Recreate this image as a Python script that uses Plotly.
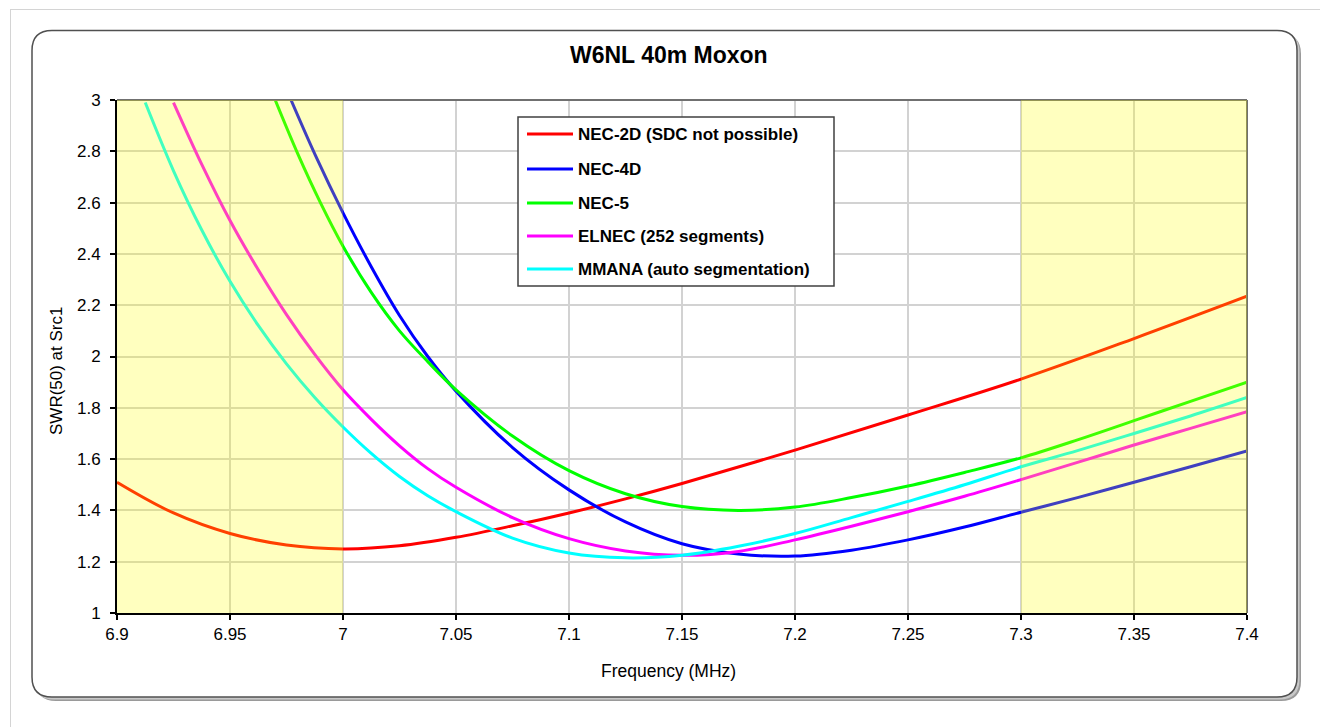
import plotly.graph_objects as go

# ---------------- data ----------------
series_names = [
    "NEC-2D (SDC not possible)",
    "NEC-4D",
    "NEC-5",
    "ELNEC (252 segments)",
    "MMANA (auto segmentation)",
]
series_colors = ["#FF0000", "#0000FF", "#00FF00", "#FF00FF", "#00FFFF"]

nec2d_freq = [6.9, 6.925, 6.95, 6.975, 7.0, 7.025, 7.05, 7.075, 7.1, 7.125, 7.15,
              7.2, 7.25, 7.3, 7.35, 7.4]
nec2d_swr = [1.51, 1.39, 1.31, 1.265, 1.25, 1.262, 1.295, 1.34, 1.39, 1.445, 1.505,
             1.635, 1.772, 1.912, 2.07, 2.235]

nec4d_freq = [6.977, 6.988, 7.0, 7.0125, 7.025, 7.0375, 7.05, 7.075, 7.1, 7.125, 7.15,
              7.175, 7.2, 7.225, 7.25, 7.275, 7.3, 7.325, 7.35, 7.375, 7.4]
nec4d_swr = [3.0, 2.78, 2.56, 2.35, 2.16, 2.0, 1.865, 1.645, 1.48, 1.355, 1.27,
             1.23, 1.222, 1.245, 1.285, 1.335, 1.393, 1.45, 1.51, 1.57, 1.632]

nec5_freq = [6.970, 6.98, 6.99, 7.0, 7.0125, 7.025, 7.0375, 7.05, 7.075, 7.1, 7.125,
             7.15, 7.175, 7.2, 7.225, 7.25, 7.275, 7.3, 7.325, 7.35, 7.375, 7.4]
nec5_swr = [3.0, 2.79, 2.60, 2.43, 2.25, 2.10, 1.98, 1.87, 1.69, 1.555, 1.465,
            1.415, 1.40, 1.413, 1.45, 1.495, 1.548, 1.605, 1.675, 1.75, 1.825, 1.90]

elnec_freq = [6.925, 6.9375, 6.95, 6.9625, 6.975, 6.9875, 7.0, 7.0125, 7.025, 7.0375,
              7.05, 7.075, 7.1, 7.125, 7.15, 7.175, 7.2, 7.225, 7.25, 7.275, 7.3,
              7.325, 7.35, 7.375, 7.4]
elnec_swr = [2.99, 2.749, 2.53, 2.338, 2.163, 2.008, 1.87, 1.755, 1.652, 1.563,
             1.49, 1.372, 1.29, 1.242, 1.225, 1.24, 1.285, 1.338, 1.395, 1.455, 1.52,
             1.587, 1.655, 1.72, 1.785]

mmana_freq = [6.9125, 6.925, 6.9375, 6.95, 6.9625, 6.975, 6.9875, 7.0, 7.0125, 7.025,
              7.0375, 7.05, 7.075, 7.1, 7.125, 7.15, 7.175, 7.2, 7.225, 7.25, 7.275,
              7.3, 7.325, 7.35, 7.375, 7.4]
mmana_swr = [2.99, 2.724, 2.493, 2.293, 2.121, 1.971, 1.84, 1.725, 1.622, 1.532,
             1.457, 1.395, 1.292, 1.234, 1.215, 1.225, 1.26, 1.31, 1.372, 1.435, 1.50,
             1.57, 1.633, 1.70, 1.768, 1.84]

series_freq = [nec2d_freq, nec4d_freq, nec5_freq, elnec_freq, mmana_freq]
series_swr = [nec2d_swr, nec4d_swr, nec5_swr, elnec_swr, mmana_swr]

x_tick_vals = [6.9, 6.95, 7.0, 7.05, 7.1, 7.15, 7.2, 7.25, 7.3, 7.35, 7.4]
x_tick_text = ["6.9", "6.95", "7", "7.05", "7.1", "7.15", "7.2", "7.25", "7.3", "7.35", "7.4"]
y_tick_vals = [1.0, 1.2, 1.4, 1.6, 1.8, 2.0, 2.2, 2.4, 2.6, 2.8, 3.0]
y_tick_text = ["1", "1.2", "1.4", "1.6", "1.8", "2", "2.2", "2.4", "2.6", "2.8", "3"]

shaded_bands = [(6.9, 7.0), (7.3, 7.4)]

title_text = "W6NL 40m Moxon"
x_title = "Frequency (MHz)"
y_title = "SWR(50) at Src1"

# ---------------- layout geometry (pixels) ----------------
W, H = 1320, 727
PL, PR, PT, PB = 117, 1247, 100, 613
FONT = "Liberation Sans, Arial, sans-serif"


def px(xp):
    return (xp - PL) / (PR - PL)


def py(yp):
    return (PB - yp) / (PB - PT)


def rounded_rect(x0, y0, x1, y1, r):
    rx = r / (PR - PL)
    ry = r / (PB - PT)
    X0, X1 = px(x0), px(x1)
    Y0, Y1 = py(y0), py(y1)  # Y0 top (larger), Y1 bottom
    return (f"M {X0+rx},{Y0} L {X1-rx},{Y0} Q {X1},{Y0} {X1},{Y0-ry} "
            f"L {X1},{Y1+ry} Q {X1},{Y1} {X1-rx},{Y1} L {X0+rx},{Y1} "
            f"Q {X0},{Y1} {X0},{Y1+ry} L {X0},{Y0-ry} Q {X0},{Y0} {X0+rx},{Y0} Z")


fig = go.Figure()
for name, color, fx, sy in zip(series_names, series_colors, series_freq, series_swr):
    fig.add_trace(go.Scatter(
        x=fx, y=sy, mode="lines", name=name,
        line=dict(color=color, width=3, shape="spline", smoothing=1.0),
        showlegend=False,
    ))

shapes = []
# page outer light border
shapes.append(dict(type="line", xref="paper", yref="paper", x0=px(10), x1=px(1320),
                   y0=py(9.5), y1=py(9.5), line=dict(color="#d4d4d4", width=1), layer="below"))
shapes.append(dict(type="line", xref="paper", yref="paper", x0=px(10.5), x1=px(10.5),
                   y0=py(9.5), y1=py(727), line=dict(color="#d4d4d4", width=1), layer="below"))
# frame shadow
shapes.append(dict(type="path", xref="paper", yref="paper",
                   path=rounded_rect(36, 34, 1301, 701, 20),
                   fillcolor="#9a9a9a", line=dict(width=0), layer="below"))
shapes.append(dict(type="path", xref="paper", yref="paper",
                   path=rounded_rect(34, 32, 1299.5, 699.5, 20),
                   fillcolor="#c8c8c8", line=dict(width=0), layer="below"))
# frame
shapes.append(dict(type="path", xref="paper", yref="paper",
                   path=rounded_rect(32, 30.5, 1297, 697, 20),
                   fillcolor="white", line=dict(color="#505050", width=1.5), layer="below"))
# plot area top/right border
shapes.append(dict(type="line", xref="paper", yref="paper", x0=0, x1=1, y0=1, y1=1,
                   line=dict(color="#707070", width=2), layer="above"))
shapes.append(dict(type="line", xref="paper", yref="paper", x0=1, x1=1, y0=0, y1=1,
                   line=dict(color="#707070", width=2), layer="above"))
# shaded bands (semi-transparent yellow drawn over the curves)
for b0, b1 in shaded_bands:
    shapes.append(dict(type="rect", xref="x", yref="y", x0=b0, x1=b1,
                       y0=y_tick_vals[0], y1=y_tick_vals[-1],
                       fillcolor="rgba(255,255,0,0.25)", line=dict(width=0), layer="above"))

# legend box
LX0, LX1, LY0, LY1 = 518, 834, 117, 286
shapes.append(dict(type="rect", xref="paper", yref="paper", x0=px(LX0), x1=px(LX1),
                   y0=py(LY0), y1=py(LY1), fillcolor="white",
                   line=dict(color="#404040", width=1.5), layer="above"))
annotations = []
row_y = [134, 169, 203, 236, 269]
for name, color, ry in zip(series_names, series_colors, row_y):
    shapes.append(dict(type="line", xref="paper", yref="paper", x0=px(527), x1=px(573),
                       y0=py(ry), y1=py(ry), line=dict(color=color, width=3), layer="above"))
    annotations.append(dict(xref="paper", yref="paper", x=px(576), y=py(ry),
                            xanchor="left", yanchor="middle", showarrow=False, text=name,
                            font=dict(family=FONT, size=17, color="black", weight="bold")))

annotations.append(dict(xref="paper", yref="paper", x=px(669), y=py(55), showarrow=False,
                        xanchor="center", yanchor="middle", text=title_text,
                        font=dict(family=FONT, size=23, color="black", weight="bold")))
annotations.append(dict(xref="paper", yref="paper", x=px(668), y=py(671), showarrow=False,
                        xanchor="center", yanchor="middle", text=x_title,
                        font=dict(family=FONT, size=17.5, color="black")))
annotations.append(dict(xref="paper", yref="paper", x=px(56), y=py(371), showarrow=False,
                        xanchor="center", yanchor="middle", text=y_title, textangle=-90,
                        font=dict(family=FONT, size=17, color="black")))

fig.update_layout(
    width=W, height=H, autosize=False,
    margin=dict(l=PL, r=W - PR, t=PT, b=H - PB, pad=0),
    paper_bgcolor="white", plot_bgcolor="rgba(0,0,0,0)",
    shapes=shapes, annotations=annotations, showlegend=False,
    font=dict(family=FONT, size=17, color="black"),
)
fig.update_xaxes(
    range=[6.9, 7.4], tickvals=x_tick_vals, ticktext=x_tick_text,
    showgrid=True, gridcolor="#d2d2d2", gridwidth=2,
    showline=True, linecolor="black", linewidth=2,
    ticks="outside", ticklen=5, tickwidth=1.5, tickcolor="black",
    tickfont=dict(family=FONT, size=17, color="black"), zeroline=False,
)
fig.update_yaxes(
    range=[1, 3], tickvals=y_tick_vals, ticktext=y_tick_text,
    showgrid=True, gridcolor="#d2d2d2", gridwidth=2,
    showline=True, linecolor="black", linewidth=2,
    ticks="outside", ticklen=5, tickwidth=1.5, tickcolor="black",
    tickfont=dict(family=FONT, size=17, color="black"), zeroline=False,
    ticklabelstandoff=6,
)

fig.write_html("out.html")
